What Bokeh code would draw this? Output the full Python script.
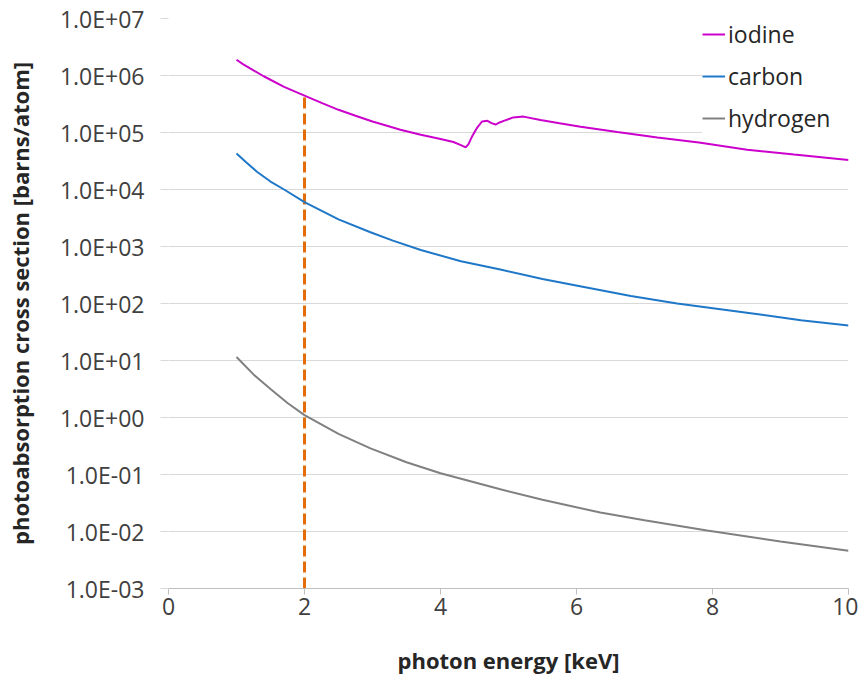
from bokeh.plotting import figure
from bokeh.models import Range1d, FixedTicker
from bokeh.embed import file_html
from bokeh.resources import INLINE

# ---- data (read / estimated from the reference) ----
iodine_x = [1.0, 1.1, 1.2, 1.4, 1.7, 2.0, 2.25, 2.5, 2.75, 3.0, 3.2, 3.41, 3.71, 4.0,
            4.19, 4.30, 4.37, 4.41, 4.47, 4.54, 4.61, 4.69, 4.75, 4.81, 4.87, 4.93,
            5.07, 5.22, 5.47, 5.75, 6.06, 6.6, 7.19, 7.8, 8.51, 9.2, 10.0]
iodine_y = [1.89e6, 1.57e6, 1.33e6, 9.7e5, 6.3e5, 4.44e5, 3.3e5, 2.5e5, 1.97e5, 1.56e5,
            1.33e5, 1.12e5, 9.1e4, 7.7e4, 6.8e4, 6.0e4, 5.5e4, 6.2e4, 8.8e4, 1.22e5,
            1.56e5, 1.6e5, 1.46e5, 1.38e5, 1.5e5, 1.6e5, 1.84e5, 1.9e5, 1.66e5, 1.45e5,
            1.26e5, 1.02e5, 8.2e4, 6.7e4, 5.0e4, 4.1e4, 3.3e4]

carbon_x = [1.0, 1.15, 1.3, 1.5, 1.7, 2.0, 2.5, 2.97, 3.3, 3.71, 4.3, 4.88, 5.5,
            6.11, 6.8, 7.48, 8.7, 9.3, 10.0]
carbon_y = [4.3e4, 2.95e4, 2.05e4, 1.38e4, 1.0e4, 6.0e3, 3.0e3, 1.78e3, 1.27e3, 8.7e2,
            5.5e2, 3.95e2, 2.7e2, 1.95e2, 1.35e2, 1.0e2, 64, 51, 41]

hydrogen_x = [1.0, 1.25, 1.5, 1.75, 2.0, 2.5, 2.97, 3.5, 4.0, 4.88, 5.5, 6.35, 7.0,
              7.92, 9.0, 10.0]
hydrogen_y = [11.5, 5.7, 3.15, 1.8, 1.1, 0.515, 0.287, 0.164, 0.105, 0.055, 0.036,
              0.0215, 0.0158, 0.0104, 0.0067, 0.0046]

marker_x = [2.0, 2.0]
marker_y = [1e-3, 4.8e5]

x_ticks = [0, 2, 4, 6, 8, 10]
y_ticks = [1e-3, 1e-2, 1e-1, 1e0, 1e1, 1e2, 1e3, 1e4, 1e5, 1e6, 1e7]
y_tick_labels = ["1.0E-03", "1.0E-02", "1.0E-01", "1.0E+00", "1.0E+01", "1.0E+02",
                 "1.0E+03", "1.0E+04", "1.0E+05", "1.0E+06", "1.0E+07"]

FONT = "Open Sans"

p = figure(frame_width=680, frame_height=570,
           x_range=Range1d(0, 10), y_range=Range1d(1e-3, 1e7),
           y_axis_type="log", output_backend="svg", toolbar_location=None,
           min_border_left=168, min_border_right=10, min_border_top=18,
           min_border_bottom=80)
p.outline_line_color = None
p.background_fill_color = "white"
p.border_fill_color = "white"

# grid
p.xgrid.grid_line_color = None
p.ygrid.grid_line_color = "#d9d9d9"
p.ygrid.grid_line_width = 1

# y axis
p.yaxis.ticker = FixedTicker(ticks=y_ticks, minor_ticks=[])
p.yaxis.major_label_overrides = {t: l for t, l in zip(y_ticks, y_tick_labels)}
p.yaxis.axis_line_color = None
p.yaxis.major_tick_line_color = "#d9d9d9"
p.yaxis.major_tick_out = 8
p.yaxis.major_tick_in = 0
p.yaxis.minor_tick_line_color = None
p.yaxis.major_label_standoff = 16
p.yaxis.axis_label = "photoabsorption cross section [barns/atom]"
p.yaxis.axis_label_standoff = 22

# x axis
p.xaxis.ticker = FixedTicker(ticks=x_ticks, minor_ticks=[])
p.xaxis.axis_line_color = "#bfbfbf"
p.xaxis.axis_line_width = 1
p.xaxis.major_tick_line_color = "#bfbfbf"
p.xaxis.major_tick_out = 6
p.xaxis.major_tick_in = 0
p.xaxis.minor_tick_line_color = None
p.xaxis.major_label_standoff = 3
p.xaxis.axis_label = "photon energy [keV]"
p.xaxis.axis_label_standoff = 27

for ax in (p.xaxis, p.yaxis):
    ax.major_label_text_font = FONT
    ax.major_label_text_font_size = "23px"
    ax.major_label_text_color = "#404040"
    ax.axis_label_text_font = FONT
    ax.axis_label_text_font_size = "22px"
    ax.axis_label_text_font_style = "bold"
    ax.axis_label_text_color = "#262626"

# marker line at 2 keV
p.line(marker_x, marker_y, line_color="#E46C0A", line_width=3, line_dash="11 5")

# series
p.line(iodine_x, iodine_y, line_color="#CC00CC", line_width=2, legend_label="iodine")
p.line(carbon_x, carbon_y, line_color="#1F77C8", line_width=2, legend_label="carbon")
p.line(hydrogen_x, hydrogen_y, line_color="#808080", line_width=2, legend_label="hydrogen")

lg = p.legend[0]
lg.location = (534, 454)
lg.margin = 0
lg.padding = 0
lg.border_line_color = None
lg.background_fill_color = "white"
lg.background_fill_alpha = 1
lg.glyph_width = 23
lg.glyph_height = 20
lg.label_height = 20
lg.label_width = 120
lg.label_standoff = 3
lg.spacing = 10
lg.label_text_font = FONT
lg.label_text_font_size = "23px"
lg.label_text_color = "#262626"

open("out.html", "w").write(file_html(p, INLINE))
